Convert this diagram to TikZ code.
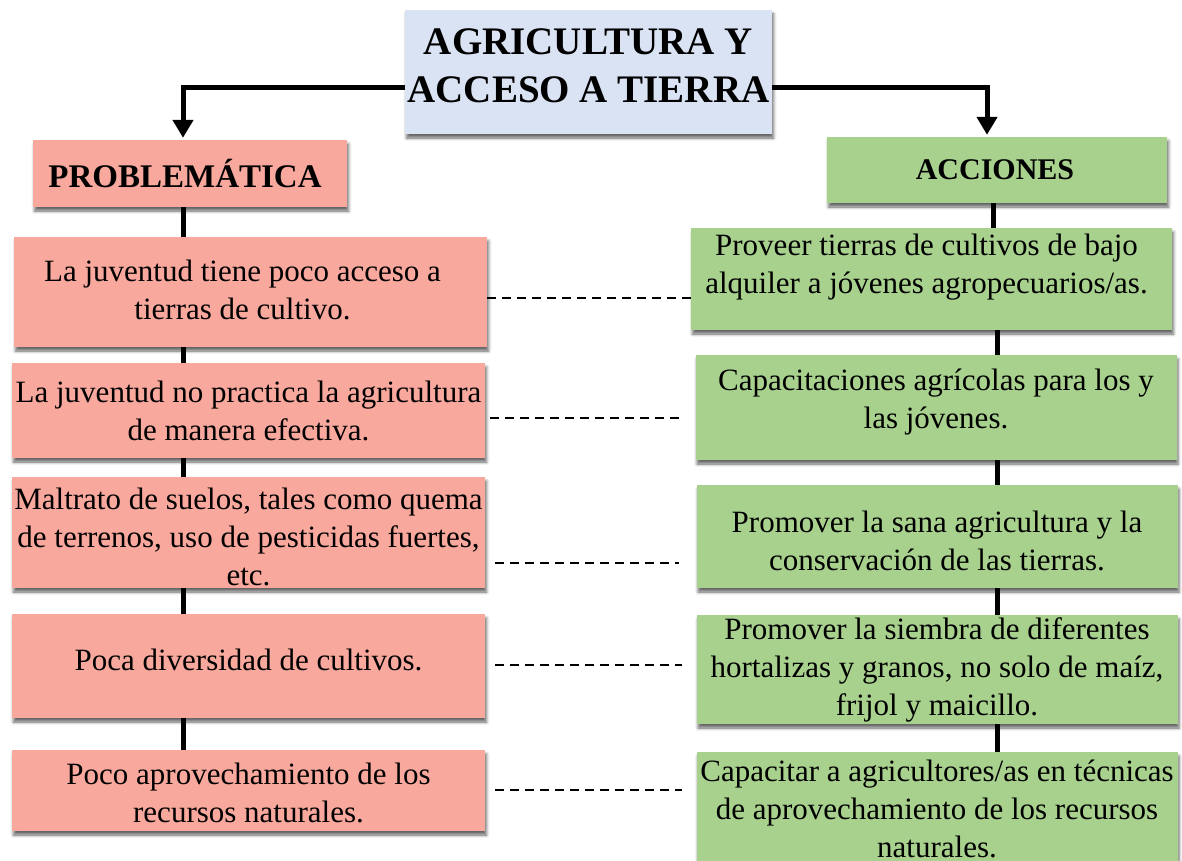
\documentclass[tikz,border=0pt]{standalone}
\usepackage{fontspec}
\setmainfont{Liberation Serif}
\usetikzlibrary{arrows.meta,shadows.blur}
\definecolor{titlebg}{HTML}{DAE3F3}
\definecolor{pinkbg}{HTML}{F9A89D}
\definecolor{greenbg}{HTML}{A9D18E}
\begin{document}
\begin{tikzpicture}[x=1pt,y=-1pt,
  shadowed/.style={blur shadow={shadow xshift=1.5pt,shadow yshift=-4pt,shadow blur radius=3pt,shadow opacity=60}},
  pbox/.style={fill=pinkbg,shadowed,minimum width=473pt,inner sep=0pt},
  gbox/.style={fill=greenbg,shadowed,minimum width=481pt,inner sep=0pt},
  txt/.style={align=center,inner sep=0pt,font=\fontsize{31}{38}\selectfont},
  conn/.style={line width=5pt},
  arr/.style={line width=5pt,-{Triangle[width=20pt,length=18pt]},shorten >=2pt},
  dashline/.style={line width=2pt,dash pattern=on 9pt off 6pt}]
\useasboundingbox (0,0) rectangle (1182,861);
\clip (0,0) rectangle (1182,861);
% title
\node[fill=titlebg,shadowed,minimum width=367pt,minimum height=124pt,inner sep=0pt,
  label={[align=center,inner sep=0pt,font=\fontsize{39}{48}\selectfont\bfseries,yshift=6pt]center:{AGRICULTURA Y\\ACCESO A TIERRA}}]
  (title) at (588.5,72) {};
% headers
\node[fill=pinkbg,shadowed,minimum width=314pt,minimum height=67pt,inner sep=0pt,
  label={[inner sep=0pt,font=\fontsize{33}{40}\selectfont\bfseries,xshift=-5pt]center:{PROBLEMÁTICA}}]
  (prob) at (190,173.5) {};
\node[fill=greenbg,shadowed,minimum width=340pt,minimum height=66pt,inner sep=0pt,
  label={[inner sep=0pt,font=\fontsize{30}{36}\selectfont\bfseries,xshift=-2pt]center:{ACCIONES}}]
  (acc) at (997,170) {};
% problem boxes
\node[pbox,minimum height=110pt,label={[txt,yshift=2pt,xshift=-8pt]center:{La juventud tiene poco acceso a\\tierras de cultivo.}}] (p1) at (250.5,292) {};
\node[pbox,minimum height=95pt,label={[txt]center:{La juventud no practica la agricultura\\de manera efectiva.}}] (p2) at (248.5,410.5) {};
\node[pbox,minimum height=111pt,label={[txt,yshift=-4pt]center:{Maltrato de suelos, tales como quema\\de terrenos, uso de pesticidas fuertes,\\etc.}}] (p3) at (248.5,532.5) {};
\node[pbox,minimum height=104pt,label={[txt,yshift=6pt]center:{Poca diversidad de cultivos.}}] (p4) at (248.5,666) {};
\node[pbox,minimum height=81pt,label={[txt,yshift=-2pt]center:{Poco aprovechamiento de los\\recursos naturales.}}] (p5) at (248.5,790.5) {};
% action boxes
\node[gbox,minimum height=102pt,label={[txt,yshift=12pt,xshift=-5pt]center:{Proveer tierras de cultivos de bajo\\alquiler a jóvenes agropecuarios/as.}}] (a1) at (931.5,279) {};
\node[gbox,minimum height=105pt,label={[txt,yshift=5pt]center:{Capacitaciones agrícolas para los y\\las jóvenes.}}] (a2) at (936,407.5) {};
\node[gbox,minimum height=103pt,label={[txt,yshift=-4pt]center:{Promover la sana agricultura y la\\conservación de las tierras.}}] (a3) at (937,536.5) {};
\node[gbox,minimum height=109pt,label={[txt]center:{Promover la siembra de diferentes\\hortalizas y granos, no solo de maíz,\\frijol y maicillo.}}] (a4) at (937,669.5) {};
\node[gbox,minimum height=156pt,label={[txt,yshift=21pt]center:{Capacitar a agricultores/as en técnicas\\de aprovechamiento de los recursos\\naturales.}}] (a5) at (937,830) {};
% connector columns
\coordinate (lx) at (183,0);
\coordinate (rx) at (997,0);
\draw[arr] ([yshift=-16pt]title.west) -| ([xshift=-7pt]prob.north);
\draw[arr] ([yshift=-16pt]title.east) -| ([xshift=-10pt]acc.north);
\draw[conn] (prob.south -| lx) -- (p1.north -| lx);
\draw[conn] (p1.south -| lx) -- (p2.north -| lx);
\draw[conn] (p2.south -| lx) -- (p3.north -| lx);
\draw[conn] (p3.south -| lx) -- (p4.north -| lx);
\draw[conn] (p4.south -| lx) -- (p5.north -| lx);
\draw[conn] ([xshift=-4pt]acc.south) -- ([xshift=-4pt]acc.south |- a1.north);
\draw[conn] (a1.south -| rx) -- (a2.north -| rx);
\draw[conn] (a2.south -| rx) -- (a3.north -| rx);
\draw[conn] (a3.south -| rx) -- (a4.north -| rx);
\draw[conn] (a4.south -| rx) -- (a5.north -| rx);
% dashed links
\draw[dashline] ([yshift=-6pt]p1.east) -- ([yshift=-6pt]p1.east -| a1.west);
\draw[dashline,shorten <=5pt,shorten >=15pt] ([yshift=-7.5pt]p2.east) -- ([yshift=-7.5pt]p2.east -| a2.west);
\draw[dashline,shorten <=10pt,shorten >=17pt] ([yshift=-30.5pt]p3.east) -- ([yshift=-30.5pt]p3.east -| a3.west);
\draw[dashline,shorten <=10pt,shorten >=14pt] ([yshift=1pt]p4.east) -- ([yshift=1pt]p4.east -| a4.west);
\draw[dashline,shorten <=10pt,shorten >=14pt] ([yshift=0.5pt]p5.east) -- ([yshift=0.5pt]p5.east -| a5.west);
\end{tikzpicture}
\end{document}
